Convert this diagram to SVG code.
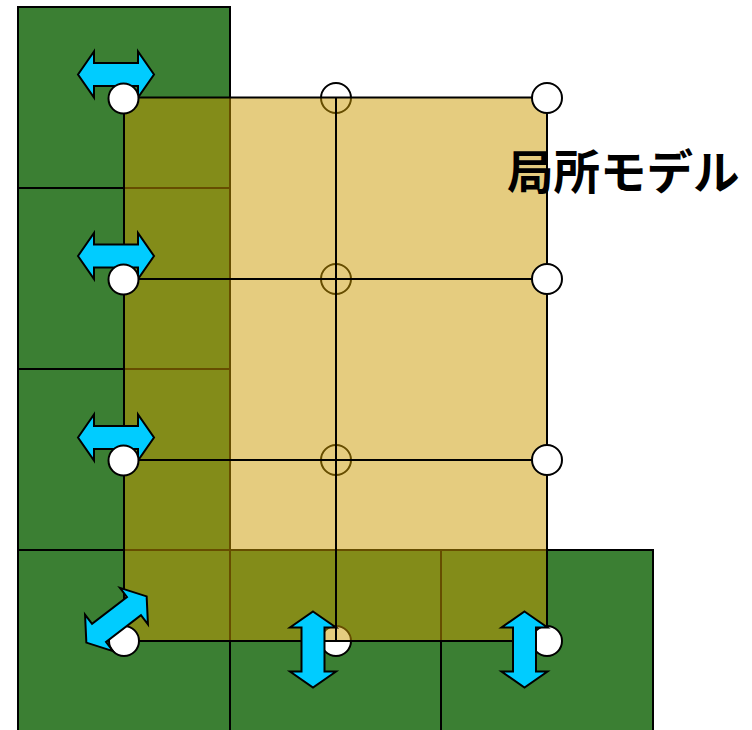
<svg xmlns="http://www.w3.org/2000/svg" width="752" height="730" viewBox="0 0 752 730">
<style>
.g{fill:#3b7f33;stroke:#000;stroke-width:2}
.c{fill:#fff;stroke:#000;stroke-width:2}
.ln{stroke:#000;stroke-width:2;fill:none}
.ar{fill:#00ccff;stroke:#000;stroke-width:2;stroke-linejoin:miter}
.t{font-family:"Noto Sans CJK JP","Noto Sans",sans-serif;font-weight:bold;font-size:46.5px;fill:#000}
</style>
<defs>
<path id="dbl" d="M-38,0 L-22,-23 L-22,-11.5 L22,-11.5 L22,-23 L38,0 L22,23 L22,11.5 L-22,11.5 L-22,23 Z"/>
</defs>
<rect width="752" height="730" fill="#fff"/>
<g id="global">
<rect class="g" x="18" y="7" width="212" height="181"/>
<rect class="g" x="18" y="188" width="212" height="181"/>
<rect class="g" x="18" y="369" width="212" height="181"/>
<rect class="g" x="18" y="550" width="212" height="185"/>
<rect class="g" x="230" y="550" width="211" height="185"/>
<rect class="g" x="441" y="550" width="212" height="185"/>
</g>
<g id="mid-nodes">
<circle class="c" cx="336" cy="98" r="15"/>
<circle class="c" cx="336" cy="279" r="15"/>
<circle class="c" cx="336" cy="460" r="15"/>
<circle class="c" cx="336" cy="641" r="15"/>
</g>
<g id="local-model">
<rect x="124" y="97.5" width="423" height="543.5" fill="#cc9900" fill-opacity="0.5" stroke="none"/>
</g>
<g id="connectors">
<path class="ln" d="M124,97.5 H547 V641 H124 Z"/>
<path class="ln" d="M336,97.5 V641"/>
<path class="ln" d="M124,279 H547"/>
<path class="ln" d="M124,460 H547"/>
</g>
<g id="edge-nodes">
<circle class="c" cx="547" cy="98" r="15"/>
<circle class="c" cx="547" cy="279" r="15"/>
<circle class="c" cx="547" cy="460" r="15"/>
<circle class="c" cx="124" cy="641" r="15"/>
<circle class="c" cx="547" cy="641" r="15"/>
</g>
<g id="arrows">
<use href="#dbl" class="ar" transform="translate(116,74.5)"/>
<use href="#dbl" class="ar" transform="translate(116,256)"/>
<use href="#dbl" class="ar" transform="translate(116,437.5)"/>
<use href="#dbl" class="ar" transform="translate(116.5,619.5) rotate(-37.5)"/>
<use href="#dbl" class="ar" transform="translate(313,649.5) rotate(90)"/>
<use href="#dbl" class="ar" transform="translate(524.5,649.5) rotate(90)"/>
</g>
<g id="left-nodes">
<circle class="c" cx="123.5" cy="98.5" r="15"/>
<circle class="c" cx="123.5" cy="279.5" r="15"/>
<circle class="c" cx="123.5" cy="460.5" r="15"/>
</g>
<g id="label">
<text class="t" x="507" y="189">局所モデル</text>
</g>
</svg>
